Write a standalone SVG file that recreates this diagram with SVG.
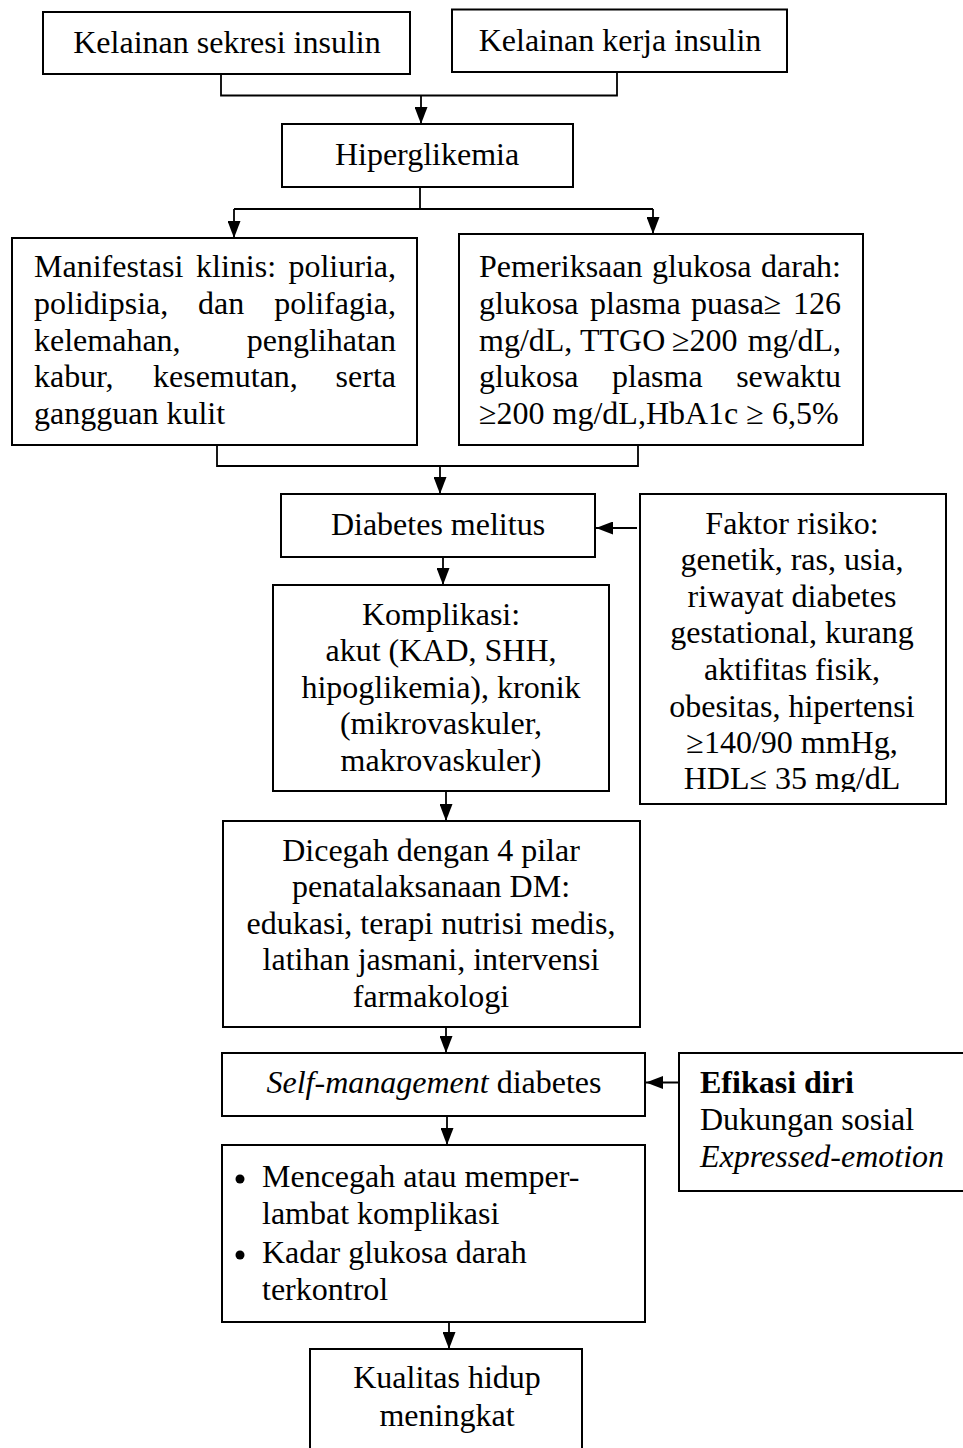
<svg xmlns="http://www.w3.org/2000/svg" width="963" height="1448" viewBox="0 0 963 1448">
<style>
.box{fill:#fff;stroke:#000;stroke-width:2}
.t{font-family:"Liberation Serif","Times New Roman",serif;font-size:32px;fill:#000}
.c{text-anchor:middle}
.e{text-anchor:end}
.ln{fill:none;stroke:#000;stroke-width:1.8}
</style>
<defs>
<marker id="ah" markerUnits="userSpaceOnUse" markerWidth="17" markerHeight="13" refX="17" refY="6.5" orient="auto">
<path d="M0,0 L17,6.5 L0,13 z" fill="#000"/>
</marker>
<clipPath id="fclip"><rect x="640" y="494" width="305" height="298"/></clipPath>
</defs>
<rect width="963" height="1448" fill="#fff"/>

<g id="connectors">
<path class="ln" d="M221,74 V95.5 H617 V72"/>
<path class="ln" d="M421,95.5 V124" marker-end="url(#ah)"/>
<path class="ln" d="M420,187 V209 M234,209 H653"/>
<path class="ln" d="M234,209 V238" marker-end="url(#ah)"/>
<path class="ln" d="M653,209 V234" marker-end="url(#ah)"/>
<path class="ln" d="M217,445 V466 H638 V445"/>
<path class="ln" d="M440,466 V494" marker-end="url(#ah)"/>
<path class="ln" d="M637,528 H596" marker-end="url(#ah)"/>
<path class="ln" d="M443,557 V585" marker-end="url(#ah)"/>
<path class="ln" d="M446,791 V821" marker-end="url(#ah)"/>
<path class="ln" d="M446,1027 V1053" marker-end="url(#ah)"/>
<path class="ln" d="M679,1082.5 H646" marker-end="url(#ah)"/>
<path class="ln" d="M447,1116 V1145" marker-end="url(#ah)"/>
<path class="ln" d="M449,1322 V1349" marker-end="url(#ah)"/>
</g>

<g id="n-sekresi">
<rect class="box" x="43" y="12" width="367" height="62"/>
<text class="t c" x="227" y="53">Kelainan sekresi insulin</text>
</g>
<g id="n-kerja">
<rect class="box" x="452" y="9.5" width="335" height="62.5"/>
<text class="t c" x="620" y="51">Kelainan kerja insulin</text>
</g>
<g id="n-hiper">
<rect class="box" x="282" y="124" width="291" height="63"/>
<text class="t c" x="427" y="165">Hiperglikemia</text>
</g>
<g id="n-manifestasi">
<rect class="box" x="12" y="238" width="405" height="207"/>
<text class="t" y="277"><tspan x="34">Manifestasi</tspan><tspan x="196">klinis:</tspan><tspan x="396" class="e">poliuria,</tspan></text>
<text class="t" y="314"><tspan x="34">polidipsia,</tspan><tspan x="198">dan</tspan><tspan x="396" class="e">polifagia,</tspan></text>
<text class="t" y="351"><tspan x="34">kelemahan,</tspan><tspan x="396" class="e">penglihatan</tspan></text>
<text class="t" y="387"><tspan x="34">kabur,</tspan><tspan x="153">kesemutan,</tspan><tspan x="396" class="e">serta</tspan></text>
<text class="t" x="34" y="424">gangguan kulit</text>
</g>
<g id="n-pemeriksaan">
<rect class="box" x="459" y="234" width="404" height="211"/>
<text class="t" y="277"><tspan x="479">Pemeriksaan</tspan><tspan x="652">glukosa</tspan><tspan x="841" class="e">darah:</tspan></text>
<text class="t" y="314"><tspan x="479">glukosa</tspan><tspan x="590">plasma</tspan><tspan x="691">puasa≥</tspan><tspan x="841" class="e">126</tspan></text>
<text class="t" y="351"><tspan x="479">mg/dL,</tspan><tspan x="580">TTGO</tspan><tspan x="672">≥200</tspan><tspan x="841" class="e">mg/dL,</tspan></text>
<text class="t" y="387"><tspan x="479">glukosa</tspan><tspan x="612">plasma</tspan><tspan x="841" class="e">sewaktu</tspan></text>
<text class="t" x="479" y="424">≥200 mg/dL,HbA1c ≥ 6,5%</text>
</g>
<g id="n-dm">
<rect class="box" x="281" y="494" width="314" height="63"/>
<text class="t c" x="438" y="535">Diabetes melitus</text>
</g>
<g id="n-faktor">
<rect class="box" x="640" y="494" width="306" height="310"/>
<g clip-path="url(#fclip)">
<text class="t c" x="792" y="534">Faktor risiko:</text>
<text class="t c" x="792" y="570">genetik, ras, usia,</text>
<text class="t c" x="792" y="607">riwayat diabetes</text>
<text class="t c" x="792" y="643">gestational, kurang</text>
<text class="t c" x="792" y="680">aktifitas fisik,</text>
<text class="t c" x="792" y="717">obesitas, hipertensi</text>
<text class="t c" x="792" y="753">≥140/90 mmHg,</text>
<text class="t c" x="792" y="789">HDL≤ 35 mg/dL</text>
</g>
</g>
<g id="n-komplikasi">
<rect class="box" x="273" y="585" width="336" height="206"/>
<text class="t c" x="441" y="625">Komplikasi:</text>
<text class="t c" x="441" y="661">akut (KAD, SHH,</text>
<text class="t c" x="441" y="698">hipoglikemia), kronik</text>
<text class="t c" x="441" y="734">(mikrovaskuler,</text>
<text class="t c" x="441" y="771">makrovaskuler)</text>
</g>
<g id="n-dicegah">
<rect class="box" x="223" y="821" width="417" height="206"/>
<text class="t c" x="431" y="861">Dicegah dengan 4 pilar</text>
<text class="t c" x="431" y="897">penatalaksanaan DM:</text>
<text class="t c" x="431" y="934">edukasi, terapi nutrisi medis,</text>
<text class="t c" x="431" y="970">latihan jasmani, intervensi</text>
<text class="t c" x="431" y="1007">farmakologi</text>
</g>
<g id="n-self">
<rect class="box" x="222" y="1053" width="423" height="63"/>
<text class="t c" x="434" y="1093"><tspan font-style="italic">Self-management</tspan> diabetes</text>
</g>
<g id="n-efikasi">
<rect class="box" x="679" y="1053" width="290" height="138"/>
<text class="t" x="700" y="1093" font-weight="bold">Efikasi diri</text>
<text class="t" x="700" y="1130">Dukungan sosial</text>
<text class="t" x="700" y="1167" font-style="italic">Expressed-emotion</text>
</g>
<g id="n-hasil">
<rect class="box" x="222" y="1145" width="423" height="177"/>
<circle cx="240" cy="1179" r="4.5" fill="#000"/>
<circle cx="240" cy="1255" r="4.5" fill="#000"/>
<text class="t" x="262" y="1187">Mencegah atau memper-</text>
<text class="t" x="262" y="1224">lambat komplikasi</text>
<text class="t" x="262" y="1263">Kadar glukosa darah</text>
<text class="t" x="262" y="1300">terkontrol</text>
</g>
<g id="n-kualitas">
<rect class="box" x="310" y="1349" width="272" height="120"/>
<text class="t c" x="447" y="1388">Kualitas hidup</text>
<text class="t c" x="447" y="1426">meningkat</text>
</g>
</svg>
